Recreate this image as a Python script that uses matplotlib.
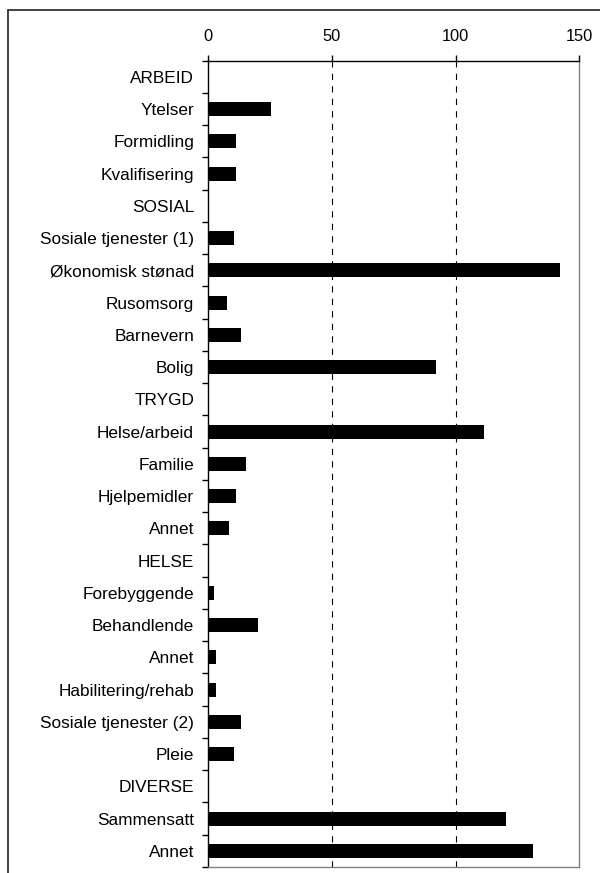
import numpy as np
import matplotlib.pyplot as plt
from matplotlib.patches import Rectangle

plt.rcParams['font.family'] = ['Liberation Sans', 'DejaVu Sans']
plt.rcParams['lines.scale_dashes'] = False

categories = ['ARBEID', 'Ytelser', 'Formidling', 'Kvalifisering',
              'SOSIAL', 'Sosiale tjenester (1)', 'Økonomisk stønad', 'Rusomsorg',
              'Barnevern', 'Bolig',
              'TRYGD', 'Helse/arbeid', 'Familie', 'Hjelpemidler', 'Annet',
              'HELSE', 'Forebyggende', 'Behandlende', 'Annet', 'Habilitering/rehab',
              'Sosiale tjenester (2)', 'Pleie',
              'DIVERSE', 'Sammensatt', 'Annet']
values = [0, 25.6, 11.5, 11.5,
          0, 10.5, 142.3, 7.5, 13.5, 92.3,
          0, 111.3, 15.4, 11.5, 8.5,
          0, 2.3, 20.4, 3.4, 3.4, 13.5, 10.5,
          0, 120.2, 131.3]
xticks = [0, 50, 100, 150]

fig = plt.figure(figsize=(6, 8.73), dpi=100)
ax = fig.add_axes([208/600, 1-867/873, (579.3-208)/600, (867-60.7)/873])

y = np.arange(len(categories))
ax.barh(y, values, height=0.43, color='black', linewidth=0, zorder=3)

ax.set_xlim(0, 150)
ax.set_ylim(len(categories)-0.5, -0.5)

ax.xaxis.tick_top()
ax.set_xticks(xticks)
ax.tick_params(axis='x', direction='out', length=4, width=1, pad=8, labelsize=11.8)
for xv in xticks[1:-1]:
    ax.axvline(xv, color='black', lw=0.8, linestyle=(0, (4.5, 4.5)), zorder=1)

ax.set_yticks(y)
ax.set_yticklabels(categories)
ax.set_yticks(np.arange(len(categories)+1)-0.5, minor=True)
ax.tick_params(axis='y', which='major', length=0, pad=10, labelsize=12.4)
ax.tick_params(axis='y', which='minor', direction='out', length=4, width=1)

for side in ['top', 'left']:
    ax.spines[side].set_color('black')
    ax.spines[side].set_linewidth(1)
for side in ['right', 'bottom']:
    ax.spines[side].set_color('#808080')
    ax.spines[side].set_linewidth(1)

fig.patches.append(Rectangle((8/600, -0.1), 1.2, 1.1-10/873, transform=fig.transFigure,
                             fill=False, edgecolor='#333333', linewidth=1.3))

fig.savefig('out.png', dpi=100)
